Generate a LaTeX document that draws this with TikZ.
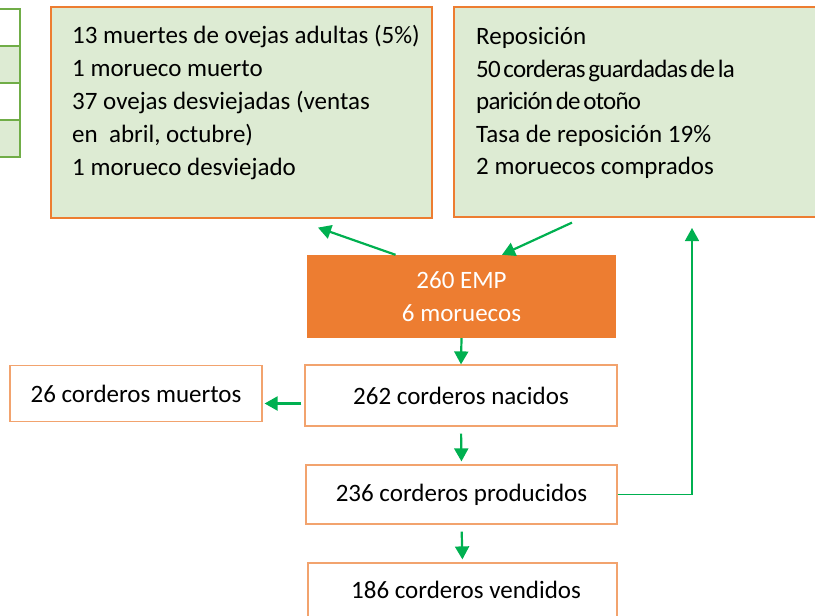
\documentclass[tikz,border=0pt]{standalone}
\usepackage{fontspec}
\setmainfont{Carlito}
\newfontfamily\apretada{Carlito}[WordSpace=0.55, LetterSpace=-3]
\usetikzlibrary{positioning,arrows.meta,calc}
\definecolor{verdeclaro}{HTML}{DDEBD3}
\definecolor{naranja}{HTML}{ED7D31}
\definecolor{naranjaclaro}{HTML}{F2A36E}
\definecolor{verdeflecha}{HTML}{00B050}
\definecolor{verdetabla}{HTML}{70AD47}
\tikzset{
  cajaverde/.style={draw=naranja, line width=1.2pt, fill=verdeclaro, inner sep=0pt},
  cajablanca/.style={draw=naranjaclaro, line width=1.2pt, fill=white, minimum height=60pt, inner sep=0pt},
  texto/.style={align=left, inner sep=0pt, anchor=north west},
  flujo/.style={draw=verdeflecha, line width=2.2pt, -{Triangle[length=13pt,width=14pt]}},
  celda/.style={draw=verdetabla, line width=2.2pt}
}
\begin{document}
\begin{tikzpicture}[x=1pt, y=-1pt, font=\fontsize{25}{32.8}\selectfont]
  \useasboundingbox (0,0) rectangle (815,616);
  % tabla cortada a la izquierda
  \draw[celda] (-10,9) rectangle (20,46);
  \draw[celda, fill=verdeclaro] (-10,46) rectangle (20,83);
  \draw[celda] (-10,83) rectangle (20,120);
  \draw[celda, fill=verdeclaro] (-10,120) rectangle (20,157);
  % cajas de arriba
  \node [cajaverde, minimum width=381pt, minimum height=211pt] (bajas) at (241.5,112.5) {};
  \node [texto] (bajastxt) at (72,25.5) {13 muertes de ovejas adultas (5\%)\\1 morueco muerto\\37 ovejas desviejadas (ventas\\en\ \ abril, octubre)\\1 morueco desviejado};
  \node [cajaverde, minimum width=370pt, minimum height=210pt] (repos) at (639,112) {};
  \node [texto, font=\fontsize{25}{32.5}\selectfont] (repostxt) at (476,27.5) {Reposición\\{\apretada 50 corderas guardadas de la}\\{\apretada parición de otoño}\\Tasa de reposición 19\%\\2 moruecos comprados};
  % rebaño
  \node [fill=naranja, text=white, align=center, minimum width=309pt, minimum height=83pt, inner sep=0pt] (emp) at (461.5,296.5) {260 EMP\\6 moruecos};
  \node [cajablanca, minimum width=312pt, minimum height=61pt] (nacidos) at (461,395.5) {262 corderos nacidos};
  \node [cajablanca, minimum width=252pt, minimum height=56pt] (muertos) at (136,393.5) {26 corderos muertos};
  \node [cajablanca, minimum width=311pt, minimum height=59pt] (producidos) at (461.5,494.5) {236 corderos producidos};
  \node [cajablanca, minimum width=309pt, minimum height=66pt, text depth=0pt] (vendidos) at (462.5,596) {};
  \node (vendidostxt) at (466,590) {186 corderos vendidos};
  \coordinate (retorno) at (692,228);
  % flechas
  \draw [flujo] ([xshift=-66pt]emp.north) -- ([xshift=76.5pt,yshift=-9pt]bajas.south);
  \draw [flujo] ([xshift=-67pt,yshift=-5pt]repos.south) -- ([xshift=40.5pt]emp.north);
  \draw [flujo] (emp.south) -- (nacidos.north);
  \draw [flujo] ([xshift=-3pt,yshift=-8pt]nacidos.west) -- ([xshift=2pt,yshift=-10pt]muertos.east);
  \draw [flujo, shorten <=7pt, shorten >=3pt] (nacidos.south) -- (producidos.north);
  \draw [flujo, shorten <=7pt, shorten >=3pt] (producidos.south) -- (vendidos.north);
  \draw [flujo, line width=1.5pt] (producidos.east) -| (retorno);
\end{tikzpicture}
\end{document}
